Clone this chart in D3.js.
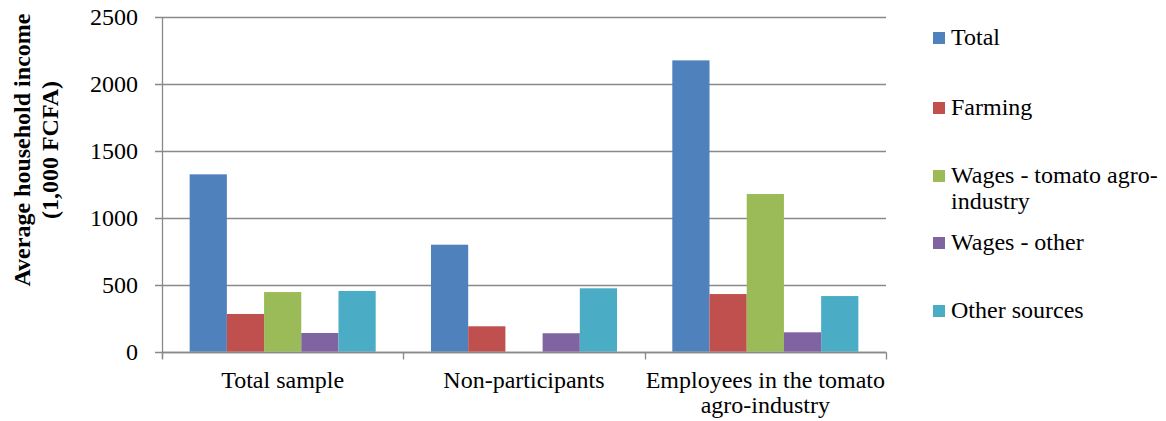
<!DOCTYPE html>
<html>
<head>
<meta charset="utf-8">
<script src="https://cdn.jsdelivr.net/npm/d3@7/dist/d3.min.js"></script>
<style>
  html, body { margin: 0; padding: 0; background: #fff; }
  svg { display: block; }
</style>
</head>
<body>
<svg id="chart" width="1166" height="421"></svg>
<script>
const categories = ["Total sample", "Non-participants", "Employees in the tomato agro-industry"];
const categoryLines = [["Total sample"], ["Non-participants"], ["Employees in the tomato", "agro-industry"]];
const seriesNames = ["Total", "Farming", "Wages - tomato agro-industry", "Wages - other", "Other sources"];
const legendLines = [["Total"], ["Farming"], ["Wages - tomato agro-", "industry"], ["Wages - other"], ["Other sources"]];
const seriesColors = ["#4F81BD", "#C0504D", "#9BBB59", "#8064A2", "#4BACC6"];
const totalValues = [1326, 800, 2178];
const farmingValues = [282, 190, 431];
const wagesTomatoValues = [446, 0, 1179];
const wagesOtherValues = [140, 138, 145];
const otherSourcesValues = [454, 474, 416];
const yTicks = [0, 500, 1000, 1500, 2000, 2500];
const yTitleLines = ["Average household income", "(1,000 FCFA)"];

const seriesValues = [totalValues, farmingValues, wagesTomatoValues, wagesOtherValues, otherSourcesValues];

(function () {
const FONT = "'Liberation Serif', Tinos, 'Times New Roman', 'DejaVu Serif', serif";
const FS = 24;
const svg = d3.select("#chart");
const pLeft = 162, pRight = 886, pTop = 17.3, pBottom = 351.7;

const x0 = d3.scaleBand().domain(categories).range([pLeft, pRight]).paddingInner(0).paddingOuter(0);
const x1 = d3.scaleBand().domain(seriesNames).range([0, x0.bandwidth()]).paddingInner(0).paddingOuter(0.743);
const y = d3.scaleLinear().domain([0, 2500]).range([pBottom, pTop]);

const grey = "#898989";

svg.append("g").selectAll("line").data(yTicks).join("line")
  .attr("x1", pLeft - 7).attr("x2", pRight)
  .attr("y1", d => Math.round(y(d)) + 0.5).attr("y2", d => Math.round(y(d)) + 0.5)
  .attr("stroke", grey).attr("stroke-width", 1.3);

const groups = svg.append("g").selectAll("g").data(categories).join("g")
  .attr("transform", d => `translate(${x0(d)},0)`);
groups.selectAll("rect")
  .data((c, ci) => seriesNames.map((s, si) => ({ s, si, v: seriesValues[si][ci] })).filter(d => d.v > 0))
  .join("rect")
  .attr("x", d => x1(d.s))
  .attr("width", x1.bandwidth())
  .attr("y", d => y(d.v))
  .attr("height", d => y(0) - y(d.v))
  .attr("fill", d => seriesColors[d.si]);

svg.append("line")
  .attr("x1", pLeft + 0.5).attr("x2", pLeft + 0.5)
  .attr("y1", pTop).attr("y2", pBottom + 7)
  .attr("stroke", grey).attr("stroke-width", 1.3);

const y0 = Math.round(y(0)) + 0.5;
svg.append("line")
  .attr("x1", pLeft).attr("x2", pRight + 0.5)
  .attr("y1", y0).attr("y2", y0)
  .attr("stroke", grey).attr("stroke-width", 1.6);

const boundaries = categories.map(c => x0(c)).concat([x0(categories[categories.length - 1]) + x0.bandwidth()]);
svg.append("g").selectAll("line").data(boundaries).join("line")
  .attr("x1", d => Math.round(d) + 0.5).attr("x2", d => Math.round(d) + 0.5)
  .attr("y1", y0).attr("y2", y0 + 7)
  .attr("stroke", grey).attr("stroke-width", 1.3);

svg.append("g").selectAll("text").data(yTicks).join("text")
  .attr("x", 138).attr("y", d => y(d) + 8)
  .attr("text-anchor", "end")
  .attr("font-family", FONT).attr("font-size", FS).attr("fill", "#000")
  .text(d => d);

categories.forEach((c, i) => {
  const cx = x0(c) + x0.bandwidth() / 2;
  categoryLines[i].forEach((line, j) => {
    svg.append("text")
      .attr("x", cx).attr("y", 388 + j * 25)
      .attr("text-anchor", "middle")
      .attr("font-family", FONT).attr("font-size", FS).attr("fill", "#000")
      .text(line);
  });
});

const yt = svg.append("text")
  .attr("transform", "translate(0,150) rotate(-90)")
  .attr("text-anchor", "middle")
  .attr("font-family", FONT).attr("font-size", FS).attr("font-weight", "bold").attr("fill", "#000");
yTitleLines.forEach((line, i) => {
  yt.append("tspan").attr("x", 0).attr("y", 30 + i * 28).text(line);
});

const legendBaselines = [45, 115, 183, 250, 318];
seriesNames.forEach((s, i) => {
  const b = legendBaselines[i];
  svg.append("rect")
    .attr("x", 933).attr("y", b - 13).attr("width", 12).attr("height", 12)
    .attr("fill", seriesColors[i]);
  legendLines[i].forEach((line, j) => {
    svg.append("text")
      .attr("x", 951).attr("y", b + j * 26)
      .attr("font-family", FONT).attr("font-size", FS).attr("fill", "#000")
      .text(line);
  });
});
})();
</script>
</body>
</html>
